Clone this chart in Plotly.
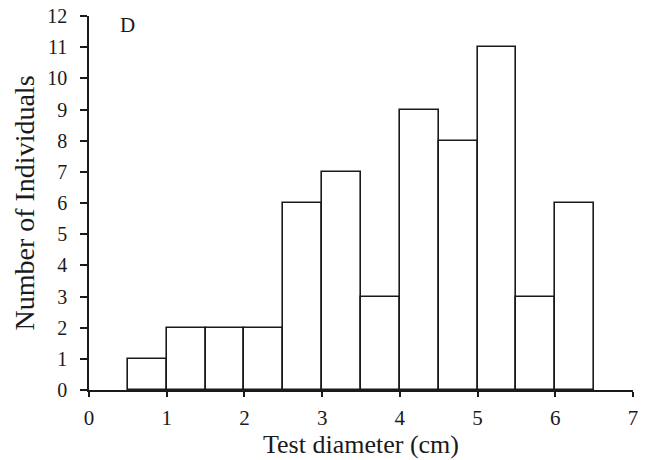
import plotly.graph_objects as go

bin_centers = [0.75, 1.25, 1.75, 2.25, 2.75, 3.25, 3.75, 4.25, 4.75, 5.25, 5.75, 6.25]
counts = [1, 2, 2, 2, 6, 7, 3, 9, 8, 11, 3, 6]
bin_width = 0.5
x_ticks = [0, 1, 2, 3, 4, 5, 6, 7]
y_ticks = list(range(0, 13))

font_family = "Liberation Serif"
ink = "#1a1a1a"

fig = go.Figure(
    go.Bar(
        x=bin_centers,
        y=counts,
        width=[bin_width] * len(counts),
        marker=dict(color="white", line=dict(color=ink, width=1.6)),
        showlegend=False,
    )
)

fig.update_layout(
    width=645,
    height=460,
    margin=dict(l=89, r=12, t=16, b=70),
    paper_bgcolor="white",
    plot_bgcolor="white",
    font=dict(family=font_family, size=20, color=ink),
    bargap=0,
    xaxis=dict(
        range=[0, 7],
        tickvals=x_ticks,
        ticks="outside",
        ticklen=5,
        tickwidth=1.5,
        tickcolor=ink,
        showline=True,
        linecolor=ink,
        linewidth=1.5,
        showgrid=False,
        zeroline=False,
        automargin=False,
        ticklabelstandoff=3,
        title=dict(text="Test diameter (cm)", font=dict(size=26), standoff=2),
        tickfont=dict(size=21),
    ),
    yaxis=dict(
        range=[0, 12],
        tickvals=y_ticks,
        ticks="outside",
        ticklen=7,
        tickwidth=1.5,
        tickcolor=ink,
        showline=True,
        linecolor=ink,
        linewidth=1.5,
        showgrid=False,
        zeroline=False,
        automargin=False,
        ticklabelstandoff=9,
        title=dict(text="Number of Individuals", font=dict(size=28), standoff=4),
        tickfont=dict(size=20),
    ),
    annotations=[
        dict(
            text="D",
            x=0.5,
            y=11.72,
            xref="x",
            yref="y",
            showarrow=False,
            font=dict(size=21, family=font_family, color=ink),
        )
    ],
)

fig.write_html("out.html")
